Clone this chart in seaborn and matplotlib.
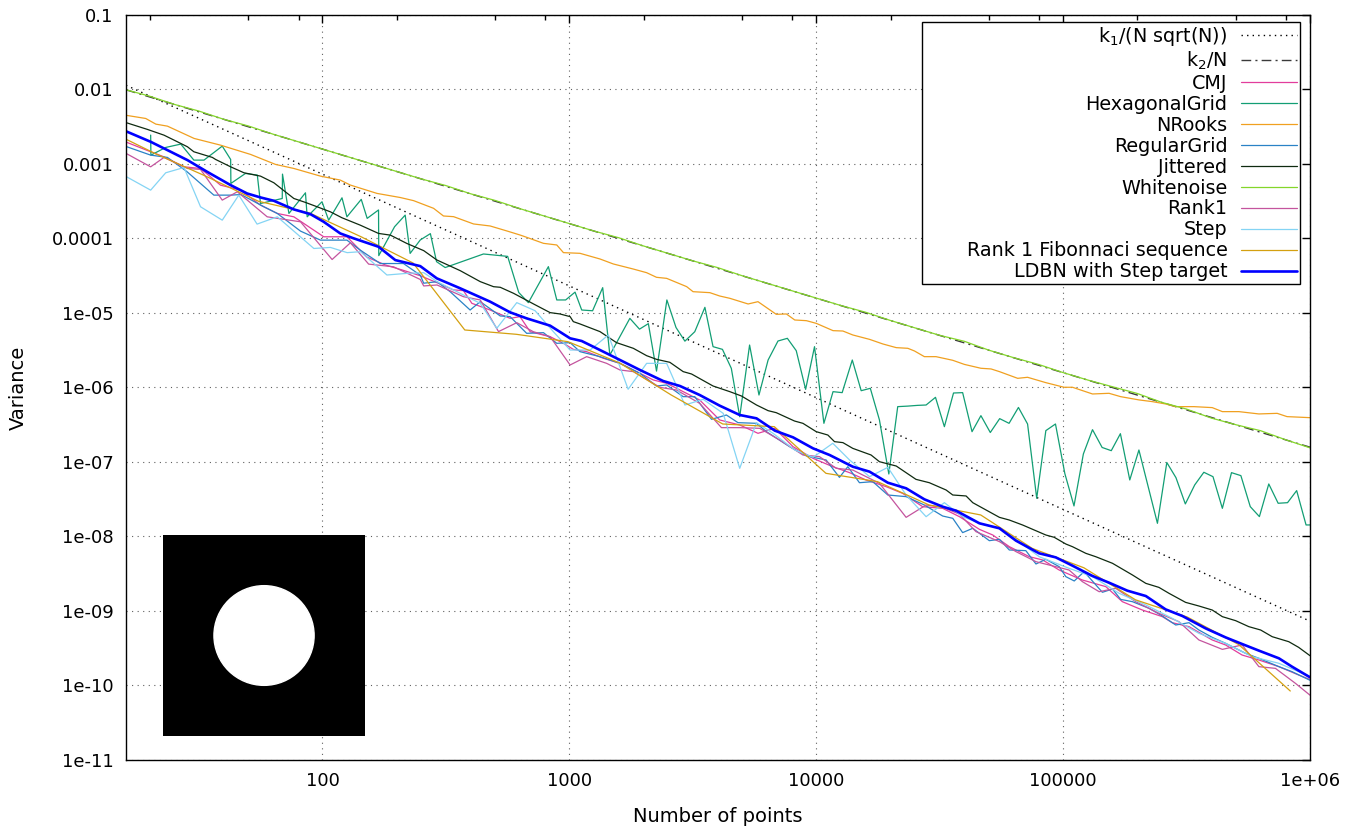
import numpy as np
import pandas as pd
import matplotlib
matplotlib.use("Agg")
import matplotlib.pyplot as plt
import seaborn as sns
from matplotlib.ticker import FixedLocator, FixedFormatter, NullLocator, NullFormatter
from matplotlib.patches import Circle, Rectangle

# ---------------- data (log10 N, log10 variance) ----------------
ref_N = [16, 1e6]
k1_line = [1.14e-2, 7.3e-10]   # k1/(N sqrt(N))
k2_line = [9.9e-3, 1.58e-7]    # k2/N

x_ticks = [1e2, 1e3, 1e4, 1e5, 1e6]
x_labels = ["100", "1000", "10000", "100000", "1e+06"]
x_minor = [20, 50, 80, 200, 500, 800, 2000, 5000, 8000, 20000, 50000, 80000,
           200000, 500000, 800000]
y_ticks = [1e-1, 1e-2, 1e-3, 1e-4, 1e-5, 1e-6, 1e-7, 1e-8, 1e-9, 1e-10, 1e-11]
y_labels = ["0.1", "0.01", "0.001", "0.0001", "1e-05", "1e-06", "1e-07", "1e-08",
            "1e-09", "1e-10", "1e-11"]

cmj = [(1.2, -2.70), (1.304, -2.836), (1.358, -2.904), (1.439, -3.038), (1.506, -3.06),
       (1.587, -3.284), (1.668, -3.351), (1.749, -3.552), (1.817, -3.664), (1.884, -3.709),
       (2.005, -3.977), (2.099, -3.977), (2.18, -4.25), (2.255, -4.356), (2.33, -4.43),
       (2.396, -4.5), (2.477, -4.611), (2.53, -4.69), (2.571, -4.7), (2.605, -4.87),
       (2.679, -4.96), (2.76, -5.072), (2.8, -5.049), (2.841, -5.251), (2.922, -5.318),
       (2.976, -5.407), (3.016, -5.488), (3.07, -5.519), (3.138, -5.608), (3.205, -5.676),
       (3.259, -5.765), (3.34, -5.899), (3.394, -5.944), (3.448, -6.034), (3.528, -6.168),
       (3.609, -6.436), (3.69, -6.503), (3.764, -6.615), (3.832, -6.548), (3.906, -6.794),
       (3.987, -6.951), (4.067, -7.063), (4.135, -7.143), (4.202, -7.242), (4.283, -7.331),
       (4.35, -7.421), (4.431, -7.6), (4.512, -7.622), (4.58, -7.734), (4.661, -7.904),
       (4.715, -7.98), (4.782, -8.136), (4.863, -8.271), (4.917, -8.315), (4.984, -8.45),
       (5.078, -8.584), (5.173, -8.673), (5.24, -8.875), (5.321, -8.987), (5.402, -9.076),
       (5.442, -9.157), (5.51, -9.21), (5.604, -9.389), (5.658, -9.456), (5.725, -9.591),
       (5.793, -9.658), (5.874, -9.747), (5.954, -9.859), (6.0, -9.92)]

hexagonal = [(1.304, -2.612), (1.305, -2.881), (1.365, -2.778), (1.426, -2.733), (1.479, -2.948),
             (1.52, -2.948), (1.594, -2.76), (1.628, -2.939), (1.629, -3.261), (1.688, -3.127),
             (1.736, -3.149), (1.749, -3.53), (1.837, -3.463), (1.838, -3.136), (1.864, -3.664),
             (1.931, -3.387), (1.938, -3.709), (1.998, -3.507), (2.025, -3.754), (2.079, -3.454),
             (2.099, -3.709), (2.157, -3.475), (2.181, -3.73), (2.227, -3.617), (2.228, -4.23),
             (2.292, -3.842), (2.335, -3.686), (2.355, -4.2), (2.396, -4.02), (2.437, -3.935),
             (2.462, -4.311), (2.497, -4.39), (2.652, -4.208), (2.75, -4.24), (2.795, -4.725),
             (2.834, -4.861), (2.915, -4.378), (2.949, -4.825), (2.985, -4.825), (3.023, -4.72),
             (3.05, -4.96), (3.094, -4.97), (3.135, -4.66), (3.164, -5.564), (3.245, -5.072),
             (3.284, -5.217), (3.32, -5.143), (3.353, -5.78), (3.395, -4.825), (3.432, -5.195),
             (3.468, -5.378), (3.508, -5.251), (3.549, -4.924), (3.582, -5.452), (3.62, -5.488),
             (3.656, -5.743), (3.69, -6.392), (3.73, -5.43), (3.768, -6.101), (3.805, -5.631),
             (3.845, -5.376), (3.883, -5.34), (3.919, -5.506), (3.957, -6.025), (3.993, -5.452),
             (4.031, -6.481), (4.068, -6.056), (4.105, -6.069), (4.146, -5.631), (4.182, -6.043),
             (4.219, -6.011), (4.256, -6.436), (4.294, -7.161), (4.33, -6.257), (4.37, -6.25),
             (4.41, -6.24), (4.445, -6.235), (4.483, -6.132), (4.519, -6.526), (4.556, -6.074),
             (4.593, -6.069), (4.631, -6.593), (4.667, -6.378), (4.705, -6.604), (4.743, -6.418),
             (4.781, -6.481), (4.819, -6.268), (4.856, -6.49), (4.893, -7.487), (4.93, -6.579),
             (4.969, -6.49), (5.007, -7.156), (5.044, -7.59), (5.082, -6.892), (5.119, -6.566),
             (5.158, -6.805), (5.195, -6.848), (5.232, -6.62), (5.27, -7.241), (5.307, -6.839),
             (5.382, -7.823), (5.42, -7.007), (5.457, -7.21), (5.495, -7.563), (5.533, -7.308),
             (5.57, -7.138), (5.607, -7.197), (5.645, -7.622), (5.682, -7.143), (5.72, -7.183),
             (5.758, -7.599), (5.795, -7.733), (5.833, -7.295), (5.871, -7.554), (5.909, -7.546),
             (5.946, -7.384), (5.984, -7.845), (6.0, -7.845)]

nrooks = [(1.2, -2.344), (1.284, -2.389), (1.325, -2.465), (1.372, -2.492), (1.48, -2.657),
          (1.587, -2.747), (1.709, -2.872), (1.81, -3.006), (1.884, -3.06), (1.992, -3.163),
          (2.072, -3.216), (2.113, -3.283), (2.221, -3.395), (2.315, -3.45), (2.369, -3.492),
          (2.45, -3.595), (2.49, -3.698), (2.531, -3.707), (2.612, -3.805), (2.679, -3.832),
          (2.747, -3.899), (2.8, -3.953), (2.827, -3.984), (2.895, -4.065), (2.949, -4.087),
          (2.976, -4.19), (3.043, -4.199), (3.124, -4.275), (3.178, -4.342), (3.259, -4.41),
          (3.313, -4.459), (3.353, -4.521), (3.394, -4.535), (3.475, -4.646), (3.501, -4.714),
          (3.569, -4.727), (3.609, -4.772), (3.65, -4.803), (3.724, -4.879), (3.764, -4.848),
          (3.838, -5.018), (3.879, -5.013), (3.913, -5.094), (3.96, -5.103), (4.0, -5.139),
          (4.068, -5.237), (4.108, -5.242), (4.148, -5.295), (4.216, -5.354), (4.27, -5.416),
          (4.324, -5.465), (4.371, -5.474), (4.398, -5.51), (4.438, -5.586), (4.485, -5.586),
          (4.553, -5.635), (4.6, -5.69), (4.667, -5.742), (4.708, -5.751), (4.742, -5.787),
          (4.816, -5.877), (4.856, -5.863), (4.93, -5.935), (5.004, -5.997), (5.038, -5.997),
          (5.119, -6.087), (5.186, -6.078), (5.233, -6.123), (5.308, -6.167), (5.362, -6.19),
          (5.415, -6.221), (5.456, -6.257), (5.53, -6.257), (5.604, -6.27), (5.645, -6.324),
          (5.712, -6.324), (5.793, -6.355), (5.867, -6.347), (5.907, -6.391), (6.0, -6.405)]

regular_grid = [(1.2, -2.76), (1.304, -2.881), (1.372, -2.912), (1.45, -3.1), (1.56, -3.418),
                (1.628, -3.418), (1.67, -3.41), (1.763, -3.575), (1.817, -3.664), (1.911, -3.901),
                (1.992, -4.022), (2.099, -4.022), (2.153, -4.156), (2.234, -4.336), (2.328, -4.336),
                (2.396, -4.492), (2.41, -4.6), (2.464, -4.58), (2.517, -4.714), (2.598, -4.96),
                (2.639, -4.848), (2.72, -5.04), (2.76, -5.049), (2.827, -5.273), (2.895, -5.264),
                (2.949, -5.407), (3.003, -5.398), (3.043, -5.519), (3.124, -5.586), (3.205, -5.676),
                (3.286, -5.81), (3.353, -5.98), (3.394, -5.966), (3.461, -6.123), (3.508, -6.123),
                (3.576, -6.427), (3.636, -6.369), (3.683, -6.472), (3.758, -6.481), (3.798, -6.593),
                (3.892, -6.794), (3.96, -6.919), (4.04, -6.973), (4.094, -7.206), (4.128, -7.063),
                (4.175, -7.278), (4.229, -7.264), (4.29, -7.443), (4.364, -7.465), (4.438, -7.577),
                (4.512, -7.725), (4.553, -7.756), (4.593, -7.948), (4.634, -7.89), (4.701, -8.056),
                (4.742, -8.038), (4.782, -8.181), (4.849, -8.19), (4.89, -8.369), (4.93, -8.306),
                (4.984, -8.405), (5.011, -8.539), (5.045, -8.597), (5.085, -8.472), (5.159, -8.749),
                (5.2, -8.705), (5.233, -8.844), (5.281, -8.875), (5.348, -8.964), (5.402, -9.067),
                (5.456, -9.188), (5.51, -9.157), (5.55, -9.255), (5.604, -9.354), (5.658, -9.434),
                (5.739, -9.568), (5.793, -9.635), (5.874, -9.747), (5.927, -9.814), (6.0, -9.93)]

jittered = [(1.2, -2.44), (1.291, -2.536), (1.358, -2.613), (1.399, -2.68), (1.453, -2.769),
            (1.479, -2.836), (1.554, -2.912), (1.567, -2.939), (1.628, -3.038), (1.682, -3.118),
            (1.749, -3.163), (1.803, -3.252), (1.884, -3.463), (1.931, -3.516), (1.978, -3.574),
            (2.032, -3.642), (2.079, -3.722), (2.153, -3.821), (2.227, -3.932), (2.275, -3.955),
            (2.342, -4.067), (2.41, -4.163), (2.463, -4.288), (2.558, -4.432), (2.639, -4.579),
            (2.693, -4.647), (2.72, -4.655), (2.774, -4.736), (2.855, -4.879), (2.922, -4.995),
            (2.962, -5.013), (3.003, -5.049), (3.016, -5.116), (3.043, -5.147), (3.124, -5.25),
            (3.191, -5.398), (3.259, -5.474), (3.313, -5.573), (3.353, -5.622), (3.407, -5.662),
            (3.461, -5.787), (3.495, -5.819), (3.582, -5.98), (3.65, -6.056), (3.697, -6.114),
            (3.758, -6.235), (3.805, -6.311), (3.838, -6.338), (3.912, -6.45), (3.946, -6.481),
            (4.0, -6.593), (4.047, -6.638), (4.074, -6.727), (4.108, -6.74), (4.148, -6.817),
            (4.222, -6.906), (4.256, -6.996), (4.324, -7.054), (4.404, -7.233), (4.458, -7.278),
            (4.526, -7.376), (4.553, -7.443), (4.607, -7.456), (4.634, -7.546), (4.742, -7.743),
            (4.782, -7.779), (4.836, -7.846), (4.93, -7.98), (4.964, -8.011), (5.011, -8.101),
            (5.038, -8.137), (5.092, -8.226), (5.132, -8.271), (5.2, -8.36), (5.281, -8.517),
            (5.335, -8.629), (5.388, -8.683), (5.429, -8.763), (5.496, -8.884), (5.55, -8.933),
            (5.604, -8.987), (5.645, -9.076), (5.699, -9.13), (5.752, -9.21), (5.8, -9.255),
            (5.847, -9.345), (5.914, -9.412), (5.954, -9.488), (6.0, -9.6)]

whitenoise_logN = [1.2, 1.3, 1.4, 1.5, 1.6, 1.7, 1.8, 1.9, 2.0, 2.1, 2.2, 2.3, 2.4, 2.5, 2.6,
                   2.7, 2.8, 2.9, 3.0, 3.1, 3.2, 3.3, 3.4, 3.5, 3.6, 3.7, 3.8, 3.9, 4.0, 4.1,
                   4.2, 4.3, 4.4, 4.5, 4.6, 4.7, 4.8, 4.9, 5.0, 5.1, 5.2, 5.3, 5.4, 5.5, 5.6,
                   5.7, 5.8, 5.9, 6.0]
whitenoise_logV = [-2.00, -2.09, -2.20, -2.29, -2.40, -2.49, -2.60, -2.70, -2.80, -2.90, -3.00,
                   -3.10, -3.20, -3.29, -3.40, -3.49, -3.60, -3.70, -3.80, -3.90, -3.99, -4.10,
                   -4.20, -4.30, -4.39, -4.50, -4.60, -4.70, -4.80, -4.90, -4.99, -5.10, -5.20,
                   -5.30, -5.38, -5.50, -5.60, -5.69, -5.80, -5.90, -5.99, -6.08, -6.20, -6.29,
                   -6.41, -6.50, -6.58, -6.70, -6.81]

rank1 = [(1.2, -2.85), (1.304, -3.038), (1.358, -2.912), (1.453, -3.06), (1.506, -3.073),
         (1.594, -3.485), (1.655, -3.373), (1.776, -3.709), (1.911, -3.776), (2.039, -4.282),
         (2.113, -4.058), (2.187, -4.344), (2.288, -4.38), (2.396, -4.55), (2.41, -4.637),
         (2.464, -4.624), (2.571, -4.781), (2.639, -4.825), (2.713, -5.25), (2.787, -5.13),
         (2.854, -5.251), (2.922, -5.318), (3.003, -5.698), (3.07, -5.586), (3.151, -5.676),
         (3.205, -5.765), (3.259, -5.787), (3.367, -5.998), (3.434, -6.034), (3.528, -6.213),
         (3.616, -6.539), (3.69, -6.539), (3.771, -6.548), (3.852, -6.705), (3.946, -6.906),
         (4.013, -6.928), (4.081, -7.085), (4.148, -7.108), (4.256, -7.286), (4.364, -7.743),
         (4.445, -7.577), (4.512, -7.608), (4.58, -7.70), (4.647, -7.935), (4.742, -8.069),
         (4.809, -8.203), (4.89, -8.338), (4.97, -8.405), (5.024, -8.45), (5.078, -8.606),
         (5.146, -8.741), (5.213, -8.696), (5.294, -8.875), (5.388, -9.031), (5.469, -9.143),
         (5.55, -9.389), (5.645, -9.515), (5.725, -9.456), (5.793, -9.747), (5.86, -9.77),
         (5.941, -9.971), (6.0, -10.13)]

step = [(1.2, -3.16), (1.304, -3.351), (1.365, -3.118), (1.439, -3.047), (1.506, -3.574),
        (1.594, -3.754), (1.661, -3.418), (1.735, -3.807), (1.817, -3.709), (1.965, -4.134),
        (2.032, -4.12), (2.1, -4.19), (2.154, -4.177), (2.261, -4.49), (2.342, -4.468),
        (2.41, -4.459), (2.464, -4.579), (2.56, -4.74), (2.639, -4.87), (2.706, -5.206),
        (2.787, -4.861), (2.861, -4.969), (2.935, -5.25), (3.003, -5.497), (3.084, -5.497),
        (3.158, -5.295), (3.238, -6.024), (3.313, -5.676), (3.394, -5.676), (3.468, -6.235),
        (3.542, -6.159), (3.623, -6.347), (3.69, -7.085), (3.758, -6.472), (3.825, -6.615),
        (3.913, -6.839), (3.987, -6.937), (4.067, -6.749), (4.135, -6.973), (4.216, -7.197),
        (4.29, -7.072), (4.364, -7.443), (4.445, -7.734), (4.519, -7.546), (4.593, -7.734),
        (4.661, -7.823), (4.742, -7.89), (4.795, -8.002), (4.903, -8.271), (5.024, -8.427),
        (5.119, -8.539), (5.227, -8.763), (5.335, -8.919), (5.442, -9.098), (5.55, -9.3),
        (5.658, -9.434), (5.766, -9.613), (5.874, -9.702), (6.0, -9.88)]

fibonacci_N = [13, 21, 34, 55, 89, 144, 233, 377, 610, 987, 1597, 2584, 4181, 6765, 10946,
               17711, 28657, 46368, 75025, 121393, 196418, 317811, 514229, 832040]
fibonacci_logV = [-2.52, -2.86, -3.17, -3.50, -3.66, -3.98, -4.33, -5.228, -5.286, -5.385,
                  -5.67, -6.10, -6.49, -6.526, -7.152, -7.264, -7.577, -7.711, -8.16, -8.42,
                  -8.85, -9.08, -9.45, -10.074]

ldbn = [(1.2, -2.555), (1.304, -2.702), (1.372, -2.814), (1.453, -2.948), (1.533, -3.105),
        (1.628, -3.284), (1.695, -3.396), (1.749, -3.449), (1.803, -3.494), (1.884, -3.61),
        (1.951, -3.673), (2.005, -3.776), (2.072, -3.932), (2.127, -3.999), (2.227, -4.111),
        (2.295, -4.29), (2.396, -4.371), (2.463, -4.535), (2.558, -4.669), (2.679, -4.848),
        (2.76, -4.991), (2.827, -5.072), (2.922, -5.17), (3.003, -5.34), (3.05, -5.376),
        (3.124, -5.497), (3.178, -5.586), (3.286, -5.765), (3.38, -5.913), (3.448, -5.98),
        (3.528, -6.101), (3.609, -6.244), (3.69, -6.369), (3.758, -6.414), (3.832, -6.579),
        (3.906, -6.669), (3.987, -6.817), (4.054, -6.906), (4.148, -7.063), (4.216, -7.13),
        (4.29, -7.278), (4.364, -7.353), (4.438, -7.501), (4.512, -7.6), (4.566, -7.653),
        (4.661, -7.823), (4.742, -7.89), (4.809, -8.056), (4.903, -8.226), (4.97, -8.28),
        (5.038, -8.392), (5.119, -8.53), (5.186, -8.62), (5.26, -8.727), (5.335, -8.799),
        (5.415, -8.978), (5.483, -9.067), (5.577, -9.233), (5.658, -9.354), (5.725, -9.443),
        (5.793, -9.532), (5.874, -9.635), (5.927, -9.747), (6.0, -9.89)]

# ---------------- figure ----------------
sns.set_style("white")
plt.rcParams["font.family"] = ["DejaVu Sans"]
plt.rcParams["text.color"] = "black"
plt.rcParams["axes.labelcolor"] = "black"
plt.rcParams["xtick.color"] = "black"
plt.rcParams["ytick.color"] = "black"

fig = plt.figure(figsize=(13.61, 8.34), dpi=100)
ax = fig.add_axes([0.09258, 0.08873, 0.86995, 0.8933])
ax.set_xscale("log")
ax.set_yscale("log")


def pairs_df(pairs):
    arr = np.array(pairs, dtype=float)
    return pd.DataFrame({"N": 10 ** arr[:, 0], "V": 10 ** arr[:, 1]})


def draw(df, label, color, lw, ls="-"):
    sns.lineplot(data=df, x="N", y="V", ax=ax, color=color, linewidth=lw,
                 linestyle=ls, label=label, estimator=None, sort=False)


draw(pd.DataFrame({"N": ref_N, "V": k1_line}), "k$_1$/(N sqrt(N))", "#000000", 1.0, (0, (1, 3)))
draw(pd.DataFrame({"N": ref_N, "V": k2_line}), "k$_2$/N", "#3a3a3a", 1.0, (0, (7, 3, 1.5, 3)))
draw(pairs_df(cmj), "CMJ", "#e23d9c", 0.9)
draw(pairs_df(hexagonal), "HexagonalGrid", "#129e74", 0.9)
draw(pairs_df(nrooks), "NRooks", "#f0a020", 0.9)
draw(pairs_df(regular_grid), "RegularGrid", "#2a82c6", 0.9)
draw(pairs_df(jittered), "Jittered", "#0f2a10", 0.9)
draw(pd.DataFrame({"N": 10 ** np.array(whitenoise_logN), "V": 10 ** np.array(whitenoise_logV)}),
     "Whitenoise", "#84d62a", 0.9)
draw(pairs_df(rank1), "Rank1", "#c4549e", 0.9)
draw(pairs_df(step), "Step", "#84d4f4", 0.9)
draw(pd.DataFrame({"N": fibonacci_N, "V": 10 ** np.array(fibonacci_logV)}),
     "Rank 1 Fibonnaci sequence", "#d4a010", 0.9)
draw(pairs_df(ldbn), "LDBN with Step target", "#0000ff", 1.9)

ax.set_xlim(16, 1e6)
ax.set_ylim(1e-11, 0.1)

ax.xaxis.set_major_locator(FixedLocator(x_ticks))
ax.xaxis.set_major_formatter(FixedFormatter(x_labels))
ax.xaxis.set_minor_locator(FixedLocator(x_minor))
ax.xaxis.set_minor_formatter(NullFormatter())
ax.yaxis.set_major_locator(FixedLocator(y_ticks))
ax.yaxis.set_major_formatter(FixedFormatter(y_labels))
ax.yaxis.set_minor_locator(NullLocator())

ax.tick_params(which="both", direction="in", top=True, right=True, colors="black",
               labelsize=13, width=1.0)
ax.tick_params(which="major", length=6)
ax.tick_params(which="minor", length=3.5)
ax.tick_params(axis="y", pad=9)
ax.tick_params(axis="x", pad=9)

ax.grid(which="major", color="#606060", linestyle=(0, (1, 4)), linewidth=0.8)
for s in ax.spines.values():
    s.set_color("black")
    s.set_linewidth(1.0)

ax.set_xlabel("Number of points", fontsize=14, labelpad=12, color="black")
ax.set_ylabel("Variance", fontsize=14, labelpad=17, color="black")

# legend box (gnuplot-style key frame), entries right-aligned inside it
ax.add_patch(Rectangle((0.6723, 0.6389), 0.3193, 0.3517, transform=ax.transAxes,
                       facecolor="white", edgecolor="black", linewidth=1.0, zorder=4.9))
leg = ax.legend(loc="upper right", bbox_to_anchor=(0.9916, 0.9906), borderaxespad=0,
                markerfirst=False, fontsize=13.8, handlelength=2.95, handletextpad=0.68,
                labelspacing=0.1, borderpad=0.15, frameon=False)
for t in leg.get_texts():
    t.set_color("black")

# inset picture of the integrand (black square with white disk)
ins = fig.add_axes([0.1198, 0.1175, 0.1484, 0.241])
ins.set_facecolor("black")
ins.set_xticks([])
ins.set_yticks([])
for s in ins.spines.values():
    s.set_visible(False)
ins.add_patch(Circle((0.5, 0.5), 0.248, transform=ins.transAxes, color="white"))

fig.savefig("out.png", dpi=100)
